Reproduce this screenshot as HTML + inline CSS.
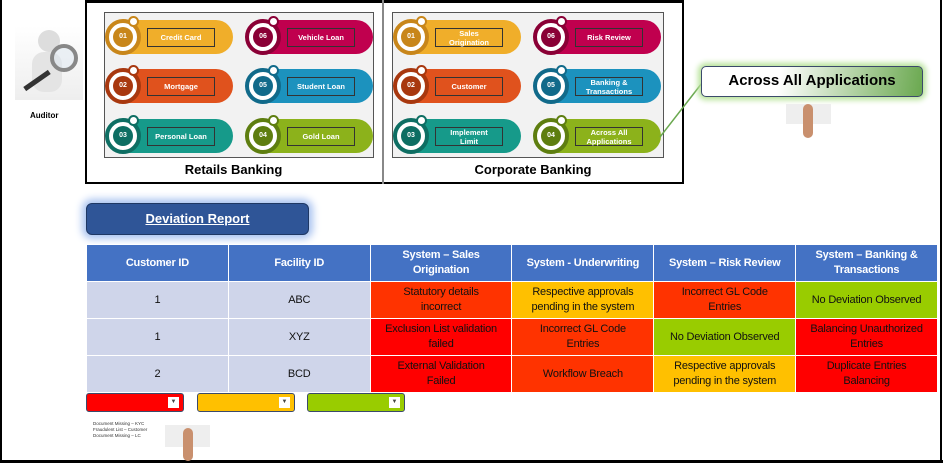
<!DOCTYPE html>
<html><head><meta charset="utf-8"><style>
*{box-sizing:border-box;margin:0;padding:0}
body{width:943px;height:463px;position:relative;background:#fff;font-family:"Liberation Sans",sans-serif;overflow:hidden}
.a{position:absolute}
.pill{position:absolute;height:34px;border-radius:0 17px 17px 0}
.ring{position:absolute;width:36px;height:36px;border-radius:50%;border:4px solid;background:#fff}
.core{position:absolute;left:4px;top:4px;width:20px;height:20px;border-radius:50%;color:#fff;font-size:7px;font-weight:bold;text-align:center;line-height:20px}
.dot{position:absolute;width:11px;height:11px;border-radius:50%;background:#fff;border:2px solid}
.lb{position:absolute;border:1.5px solid #333;color:#fff;font-size:7.5px;font-weight:bold;text-align:center;display:flex;align-items:center;justify-content:center;line-height:9px}
table{border-collapse:collapse;position:absolute;left:86px;top:244px;width:852px;table-layout:fixed}
td{border:1.5px solid #fff;text-align:center;font-size:11px;letter-spacing:-0.2px;color:#111;line-height:15px;padding:0 1px;white-space:nowrap}
th{border:1.5px solid #fff;background:#4472C4;color:#fff;font-size:11px;letter-spacing:-0.2px;font-weight:bold;line-height:15px;height:37px;white-space:nowrap}
.g{background:#CFD5EA}.r{background:#FF0000}.o{background:#FF3300}.y{background:#FFC000}.v{background:#99CC00}
.dd{position:absolute;top:393px;width:98px;height:19px;border:1.5px solid #3b4a6b;border-radius:3px}
.dd span{position:absolute;right:4px;top:3px;width:11px;height:11px;background:#fff;font-size:6px;text-align:center;line-height:11px;color:#444}
</style></head><body>
<div class="a" style="left:0;top:0;width:2px;height:463px;background:#000"></div>
<div class="a" style="left:940px;top:0;width:2px;height:463px;background:#000"></div>
<div class="a" style="left:0;top:460px;width:943px;height:3px;background:#000"></div>

<!-- auditor -->
<div class="a" style="left:15px;top:26px;width:68px;height:74px;background:linear-gradient(#fff,#eee)"></div>
<div class="a" style="left:38px;top:30px;width:22px;height:22px;border-radius:50%;background:#ddd"></div>
<div class="a" style="left:32px;top:52px;width:30px;height:40px;border-radius:12px;background:#e4e4e4"></div>
<div class="a" style="left:50px;top:44px;width:28px;height:28px;border-radius:50%;border:4px solid #888;background:rgba(220,230,240,.5)"></div>
<div class="a" style="left:22px;top:78px;width:30px;height:5px;background:#333;transform:rotate(-35deg)"></div>
<div class="a" style="left:30px;top:111px;font-size:8px;font-weight:bold">Auditor</div>

<!-- top box -->
<div class="a" style="left:85px;top:0;width:599px;height:184px;border:2px solid #000;border-top:3px solid #000"></div>
<div class="a" style="left:382px;top:0;width:1.5px;height:184px;background:#888"></div>
<div class="a" style="left:104px;top:12px;width:270px;height:146px;background:#f2f2f2;border:1px solid #555"></div>
<div class="a" style="left:392px;top:12px;width:272px;height:146px;background:#f2f2f2;border:1px solid #555"></div>
<div class="a" style="left:85px;top:162px;width:297px;text-align:center;font-size:13px;font-weight:bold">Retails Banking</div>
<div class="a" style="left:383px;top:162px;width:300px;text-align:center;font-size:13px;font-weight:bold">Corporate Banking</div>

<!-- pills -->
<div id="p"></div>
<script>
var P=[
[105,20,"#F0AE2A","#C8861A","01","Credit Card"],[245,20,"#C0004E","#8A0036","06","Vehicle Loan"],
[105,69,"#E0521D","#A8380F","02","Mortgage"],[245,69,"#1C92BE","#116A8A","05","Student Loan"],
[105,119,"#169A8A","#0E6E63","03","Personal Loan"],[245,119,"#8CB21B","#5E7E10","04","Gold Loan"],
[393,20,"#F0AE2A","#C8861A","01","Sales<br>Origination"],[533,20,"#C0004E","#8A0036","06","Risk Review"],
[393,69,"#E0521D","#A8380F","02","Customer"],[533,69,"#1C92BE","#116A8A","05","Banking &amp;<br>Transactions"],
[393,119,"#169A8A","#0E6E63","03","Implement<br>Limit"],[533,119,"#8CB21B","#5E7E10","04","Across All<br>Applications"]];
var h="";
P.forEach(function(q){var x=q[0],y=q[1];
h+='<div class="pill" style="left:'+(x+12)+'px;top:'+y+'px;width:116px;background:'+q[2]+'"></div>';
h+='<div class="ring" style="left:'+(x)+'px;top:'+(y-1)+'px;border-color:'+q[3]+'"><div class="core" style="background:'+q[3]+'">'+q[4]+'</div></div>';
h+='<div class="dot" style="left:'+(x+23)+'px;top:'+(y-4)+'px;border-color:'+q[3]+'"></div>';
h+='<div class="lb" style="left:'+(x+42)+'px;top:'+(y+8)+'px;width:68px;height:19px;background:'+q[2]+'">'+q[5]+'</div>';});
document.getElementById("p").innerHTML=h;
</script>

<!-- across all applications -->
<svg class="a" style="left:655px;top:80px" width="50" height="60"><line x1="5" y1="57" x2="47" y2="3" stroke="#6aa84f" stroke-width="1.5"/></svg>
<div class="a" style="left:701px;top:66px;width:222px;height:31px;border:1.5px solid #3b4a6b;border-radius:5px;background:linear-gradient(100deg,#fff 35%,#6aa84f);box-shadow:0 0 6px 3px #b8e39a;font-size:15px;font-weight:bold;text-align:center;line-height:28px">Across All Applications</div>
<div class="a" style="left:786px;top:104px;width:45px;height:20px;background:#eee"></div>
<div class="a" style="left:803px;top:104px;width:10px;height:34px;border-radius:5px;background:#c9906e"></div>

<!-- deviation report -->
<div class="a" style="left:86px;top:203px;width:223px;height:32px;border-radius:6px;background:#2F5597;border:1px solid #1f3864;box-shadow:0 0 8px 4px #a9c3f0;color:#fff;font-size:13px;font-weight:bold;text-decoration:underline;text-align:center;line-height:30px">Deviation Report</div>

<table>
<tr><th>Customer ID</th><th>Facility ID</th><th>System – Sales<br>Origination</th><th>System - Underwriting</th><th>System – Risk Review</th><th>System – Banking &amp;<br>Transactions</th></tr>
<tr style="height:37px"><td class="g">1</td><td class="g">ABC</td><td class="o">Statutory details<br>incorrect</td><td class="y">Respective approvals<br>pending in the system</td><td class="o">Incorrect GL Code<br>Entries</td><td class="v">No Deviation Observed</td></tr>
<tr style="height:37px"><td class="g">1</td><td class="g">XYZ</td><td class="r">Exclusion List validation<br>failed</td><td class="o">Incorrect GL Code<br>Entries</td><td class="v">No Deviation Observed</td><td class="r">Balancing Unauthorized<br>Entries</td></tr>
<tr style="height:37px"><td class="g">2</td><td class="g">BCD</td><td class="r">External Validation<br>Failed</td><td class="o">Workflow Breach</td><td class="y">Respective approvals<br>pending in the system</td><td class="r">Duplicate Entries<br>Balancing</td></tr>
</table>

<div class="dd" style="left:86px;background:#FF0000"><span>▼</span></div>
<div class="dd" style="left:197px;background:#FFC000"><span>▼</span></div>
<div class="dd" style="left:307px;background:#99CC00"><span>▼</span></div>
<div class="a" style="left:93px;top:421px;font-size:4.5px;line-height:6px;color:#333">Document Missing – KYC<br>Fraudulent List – Customer<br>Document Missing – LC</div>
<div class="a" style="left:165px;top:425px;width:45px;height:22px;background:#eee"></div>
<div class="a" style="left:183px;top:428px;width:10px;height:33px;border-radius:5px;background:#c9906e"></div>
</body></html>
